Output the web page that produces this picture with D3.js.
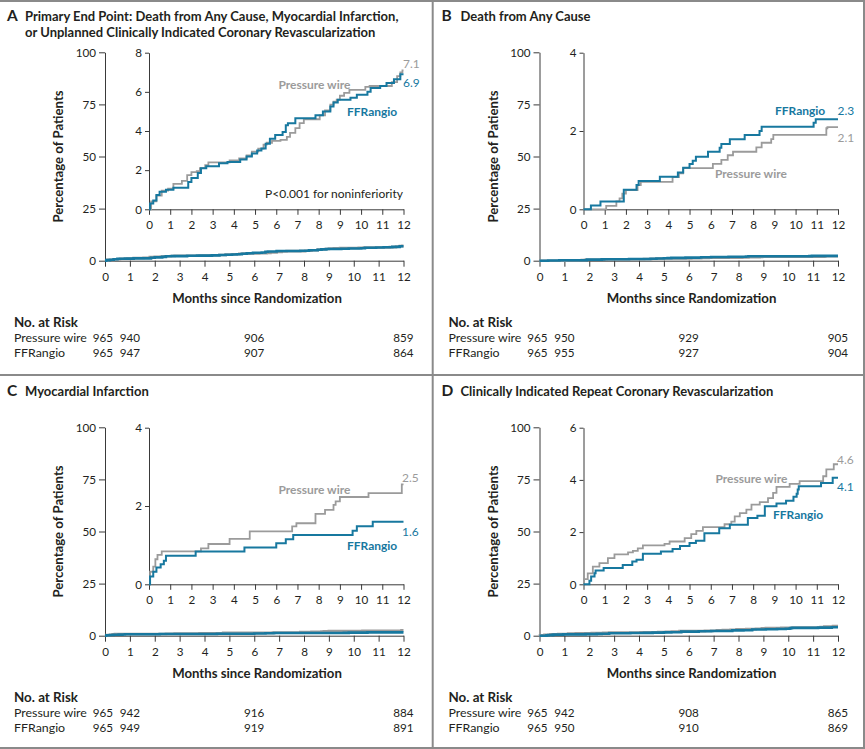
<!DOCTYPE html>
<html>
<head>
<meta charset="utf-8">
<script src="https://cdn.jsdelivr.net/npm/d3@7"></script>
<style>
  body { margin: 0; background: #fff; }
  svg { font-family: Lato, "Open Sans", sans-serif; }
</style>
</head>
<body>
<script>
const W = 865
const H = 749
const blue = '#17789f'
const gray = '#9b9b9b'
const ink = '#231f20'

const months = d3.range(0, 13)
const riskMonths = [0, 1, 6, 12]

// panel A: primary end point
const aWire = [[0,0],[0.1,0.4],[0.35,0.7],[0.6,0.95],[0.9,1.05],[1.15,1.3],[1.55,1.45],[1.8,1.75],[2.0,1.9],[2.25,1.95],[2.4,2.1],[2.65,2.25],[2.8,2.4],[3.8,2.5],[4.25,2.6],[4.6,2.75],[4.85,2.95],[5.15,3.1],[5.4,3.3],[5.55,3.4],[5.8,3.5],[6.2,3.55],[6.5,3.7],[6.65,3.9],[6.9,4.15],[7.1,4.4],[7.3,4.6],[8.05,4.8],[8.3,5.05],[8.55,5.35],[8.7,5.5],[8.85,5.6],[9.0,5.8],[9.2,5.95],[9.45,6.1],[10.2,6.25],[10.4,6.3],[11.45,6.5],[11.7,6.8],[11.85,7.0],[11.95,7.1],[12,7.1]]
const aAngio = [[0,0],[0.05,0.3],[0.2,0.45],[0.35,0.73],[0.5,0.9],[0.8,1.0],[1.15,1.1],[1.85,1.4],[2.0,1.6],[2.3,1.85],[2.45,2.1],[2.7,2.2],[3.3,2.35],[3.7,2.42],[4.3,2.55],[4.6,2.7],[4.85,2.85],[5.1,3.0],[5.3,3.1],[5.5,3.35],[5.7,3.6],[5.95,3.8],[6.3,3.95],[6.45,4.3],[6.55,4.4],[6.9,4.65],[7.85,4.8],[8.2,5.0],[8.55,5.25],[8.7,5.45],[8.9,5.6],[9.5,5.7],[9.8,5.85],[10.3,6.0],[10.45,6.2],[10.9,6.3],[11.2,6.45],[11.55,6.65],[11.85,6.9],[12,6.9]]
const aRiskWire = [965, 940, 906, 859]
const aRiskAngio = [965, 947, 907, 864]

// panel B: death from any cause
const bWire = [[0,0],[1.07,0.09],[1.55,0.2],[1.7,0.28],[1.83,0.4],[2.0,0.49],[2.55,0.62],[2.7,0.7],[4.2,0.82],[4.5,0.92],[4.7,1.05],[6.1,1.16],[6.5,1.26],[6.8,1.38],[7.05,1.47],[8.15,1.58],[8.4,1.7],[8.85,1.79],[8.95,1.9],[11.45,2.07],[11.5,2.1],[12,2.1]]
const bAngio = [[0,0],[0.35,0.1],[0.8,0.2],[1.9,0.5],[2.5,0.62],[2.6,0.72],[3.6,0.83],[4.45,0.94],[4.7,1.06],[5.0,1.16],[5.15,1.24],[5.3,1.34],[5.87,1.47],[6.42,1.57],[6.5,1.67],[6.9,1.79],[7.6,1.9],[8.3,2.0],[8.4,2.11],[10.85,2.21],[10.95,2.3],[12,2.3]]
const bRiskWire = [965, 950, 929, 905]
const bRiskAngio = [965, 955, 927, 904]

// panel C: myocardial infarction
const cWire = [[0,0],[0.05,0.32],[0.2,0.45],[0.3,0.64],[0.4,0.75],[0.6,0.84],[2.45,0.92],[2.8,1.03],[3.8,1.16],[4.75,1.35],[6.75,1.48],[6.95,1.56],[7.85,1.8],[8.3,1.9],[8.7,2.03],[8.8,2.12],[9.0,2.23],[10.35,2.33],[11.92,2.55],[12,2.55]]
const cAngio = [[0,0],[0.05,0.2],[0.2,0.32],[0.35,0.43],[0.55,0.51],[0.7,0.6],[0.8,0.73],[2.2,0.84],[4.5,0.94],[6.0,1.05],[6.45,1.15],[6.8,1.26],[9.6,1.37],[9.8,1.48],[10.55,1.6],[12,1.6]]
const cRiskWire = [965, 942, 916, 884]
const cRiskAngio = [965, 949, 919, 891]

// panel D: repeat revascularization
const dWire = [[0,0],[0.02,0.2],[0.2,0.42],[0.44,0.68],[0.75,0.81],[1.15,1.0],[1.46,1.15],[2.1,1.22],[2.33,1.28],[2.56,1.38],[2.8,1.49],[3.82,1.55],[4.06,1.64],[4.77,1.77],[5.08,1.92],[5.32,2.05],[5.63,2.19],[6.65,2.3],[6.97,2.4],[7.13,2.6],[7.37,2.73],[7.68,2.86],[7.92,3.05],[8.31,3.15],[8.7,3.3],[8.94,3.5],[9.1,3.73],[9.72,3.85],[10.19,3.95],[11.3,4.14],[11.45,4.4],[11.8,4.6],[12,4.6]]
const dAngio = [[0,0],[0.28,0.14],[0.36,0.3],[0.52,0.42],[0.57,0.53],[0.95,0.62],[1.85,0.74],[2.3,0.87],[2.5,0.94],[2.8,1.17],[3.65,1.26],[4.2,1.35],[4.55,1.47],[5.0,1.58],[5.3,1.67],[5.7,1.96],[6.4,2.15],[6.9,2.28],[7.75,2.54],[8.2,2.63],[8.55,2.99],[9.1,3.1],[9.55,3.2],[9.9,3.35],[10.05,3.47],[10.1,3.63],[10.15,3.76],[11.2,3.88],[11.75,4.08],[12,4.08]]
const dRiskWire = [965, 942, 908, 865]
const dRiskAngio = [965, 950, 910, 869]

const letters = ['A', 'B', 'C', 'D']
const titles = [
  ['Primary End Point: Death from Any Cause, Myocardial Infarction,', 'or Unplanned Clinically Indicated Coronary Revascularization'],
  ['Death from Any Cause'],
  ['Myocardial Infarction'],
  ['Clinically Indicated Repeat Coronary Revascularization']
]
const insetMax = [8, 4, 4, 6]
const insetTicks = [[0, 2, 4, 6, 8], [0, 2, 4], [0, 2, 4], [0, 2, 4, 6]]
const endWire = ['7.1', '2.1', '2.5', '4.6']
const endAngio = ['6.9', '2.3', '1.6', '4.1']
const mainTicks = [0, 25, 50, 75, 100]

const svg = d3.select('body').append('svg')
  .attr('width', W)
  .attr('height', H)

// pick font sizes so that Lato text spans roughly what the reference shows
const probe = svg.append('text').attr('font-size', 20)
function sizeFor(str, weight, width) {
  probe.attr('font-weight', weight).text(str)
  return 20 * width / probe.node().getComputedTextLength()
}
const fsTitle = sizeFor(titles[0][0], 700, 374)
const fsAxisTitle = sizeFor('Months since Randomization', 700, 170)
const fsRiskHead = sizeFor('No. at Risk', 700, 64)
const fsRowLabel = sizeFor('Pressure wire', 400, 73)
const fsNum = sizeFor('100', 400, 20.3)
const fsCurve = sizeFor('Pressure wire', 700, 72)
const fsP = sizeFor('P<0.001 for noninferiority', 400, 138)
probe.remove()

// frame lines
const frame = svg.append('g').attr('stroke', '#8a8a8a').attr('stroke-width', 2)
frame.append('line').attr('x1', 0).attr('x2', W).attr('y1', 1).attr('y2', 1)
frame.append('line').attr('x1', 864).attr('x2', 864).attr('y1', 0).attr('y2', H)
frame.append('line').attr('x1', 0).attr('x2', W).attr('y1', 748).attr('y2', 748)
frame.append('line').attr('x1', 432.7).attr('x2', 432.7).attr('y1', 0).attr('y2', H)
frame.append('line').attr('x1', 0).attr('x2', W).attr('y1', 375).attr('y2', 375)

function drawPanel(i, dx, dy, wire, angio, riskWire, riskAngio, labels) {
  const g = svg.append('g').attr('transform', `translate(${dx},${dy})`)

  const x = d3.scaleLinear().domain([0, 12]).range([105, 403.5])
  const y = d3.scaleLinear().domain([0, 100]).range([260.7, 52.3])
  const xi = d3.scaleLinear().domain([0, 12]).range([149, 403.5])
  const yi = d3.scaleLinear().domain([0, insetMax[i]]).range([209.3, 52.7])

  // title
  g.append('text').attr('x', 7).attr('y', 21)
    .attr('font-size', 15.5).attr('font-weight', 700).attr('fill', ink)
    .text(letters[i])
  titles[i].forEach((t, k) => {
    g.append('text').attr('x', i % 2 ? 26 : 25).attr('y', 20.8 + k * 16)
      .attr('font-size', fsTitle).attr('font-weight', 700).attr('fill', ink)
      .text(t)
  })

  // main axes
  const xAxis = g.append('g').attr('transform', `translate(0,${y(0)})`)
    .call(d3.axisBottom(x).tickValues(months).tickSize(6).tickSizeOuter(0))
  const yAxis = g.append('g').attr('transform', `translate(${x(0)},0)`)
    .call(d3.axisLeft(y).tickValues(mainTicks).tickSize(6).tickSizeOuter(0))
  // inset axes
  const xiAxis = g.append('g').attr('transform', `translate(0,${yi(0)})`)
    .call(d3.axisBottom(xi).tickValues(months).tickSize(5.5).tickSizeOuter(0))
  const yiAxis = g.append('g').attr('transform', `translate(${xi(0)},0)`)
    .call(d3.axisLeft(yi).tickValues(insetTicks[i]).tickFormat(d3.format('d')).tickSize(4).tickSizeOuter(0))

  ;[xAxis, yAxis, xiAxis, yiAxis].forEach(a => {
    a.selectAll('path, line').attr('stroke', '#3a3a3a').attr('stroke-width', 1)
    a.selectAll('text').attr('font-size', fsNum).attr('fill', ink)
      .attr('font-family', 'Lato, sans-serif')
  })
  xAxis.selectAll('text').attr('dy', '0.95em')
  xiAxis.selectAll('text').attr('dy', '0.95em')

  g.append('text').attr('x', 257).attr('y', 302.5)
    .attr('text-anchor', 'middle').attr('font-size', fsAxisTitle).attr('font-weight', 700).attr('fill', ink)
    .text('Months since Randomization')
  g.append('text')
    .attr('transform', `translate(63,${(y(0) + y(100)) / 2}) rotate(-90)`)
    .attr('text-anchor', 'middle').attr('font-size', fsAxisTitle).attr('font-weight', 700).attr('fill', ink)
    .text('Percentage of Patients')

  // curves
  const mainLine = d3.line().curve(d3.curveStepAfter).x(d => x(d[0])).y(d => y(d[1]))
  const insetLine = d3.line().curve(d3.curveStepAfter).x(d => xi(d[0])).y(d => yi(d[1]))

  g.append('path').datum(wire).attr('d', mainLine)
    .attr('fill', 'none').attr('stroke', gray).attr('stroke-width', 2.6)
  g.append('path').datum(angio).attr('d', mainLine)
    .attr('fill', 'none').attr('stroke', blue).attr('stroke-width', 2.6)
  g.append('path').datum(wire).attr('d', insetLine)
    .attr('fill', 'none').attr('stroke', gray).attr('stroke-width', 1.8)
  g.append('path').datum(angio).attr('d', insetLine)
    .attr('fill', 'none').attr('stroke', blue).attr('stroke-width', 2)

  // curve labels
  labels.forEach(l => {
    g.append('text').attr('x', l.x).attr('y', l.y)
      .attr('text-anchor', l.anchor || 'start')
      .attr('font-size', l.size || (l.bold ? fsCurve : fsNum + 0.3))
      .attr('font-weight', l.bold ? 700 : 400)
      .attr('fill', l.color)
      .text(l.text)
  })

  // number at risk
  g.append('text').attr('x', 14).attr('y', 326.8)
    .attr('font-size', fsRiskHead).attr('font-weight', 700).attr('fill', ink)
    .text('No. at Risk')
  const rows = [['Pressure wire', riskWire, 342.4], ['FFRangio', riskAngio, 356.9]]
  rows.forEach(r => {
    g.append('text').attr('x', 14).attr('y', r[2])
      .attr('font-size', fsRowLabel).attr('fill', ink).text(r[0])
    g.selectAll(null).data(r[1]).enter().append('text')
      .attr('x', (d, k) => x(riskMonths[k]) - (k === 0 ? 2 : 0))
      .attr('y', r[2])
      .attr('text-anchor', 'middle').attr('font-size', fsNum).attr('fill', ink)
      .text(d => d)
  })
}

drawPanel(0, 0, 0, aWire, aAngio, aRiskWire, aRiskAngio, [
  { x: 403, y: 67.8, text: endWire[0], color: gray },
  { x: 403, y: 86.8, text: endAngio[0], color: blue },
  { x: 278.5, y: 88.8, text: 'Pressure wire', color: gray, bold: true },
  { x: 347, y: 115.8, text: 'FFRangio', color: blue, bold: true },
  { x: 403, y: 197.8, text: 'P<0.001 for noninferiority', color: ink, anchor: 'end', size: fsP }
])
drawPanel(1, 434.5, 0, bWire, bAngio, bRiskWire, bRiskAngio, [
  { x: 403, y: 114.8, text: endAngio[1], color: blue },
  { x: 403, y: 142.3, text: endWire[1], color: gray },
  { x: 340.5, y: 114.8, text: 'FFRangio', color: blue, bold: true },
  { x: 280.5, y: 177.8, text: 'Pressure wire', color: gray, bold: true }
])
drawPanel(2, 0, 375, cWire, cAngio, cRiskWire, cRiskAngio, [
  { x: 402, y: 107.3, text: endWire[2], color: gray },
  { x: 402, y: 160.8, text: endAngio[2], color: blue },
  { x: 278.5, y: 118.8, text: 'Pressure wire', color: gray, bold: true },
  { x: 347, y: 175.3, text: 'FFRangio', color: blue, bold: true }
])
drawPanel(3, 434.5, 375, dWire, dAngio, dRiskWire, dRiskAngio, [
  { x: 402.5, y: 88.8, text: endWire[3], color: gray },
  { x: 402.5, y: 115.8, text: endAngio[3], color: blue },
  { x: 281, y: 108.3, text: 'Pressure wire', color: gray, bold: true },
  { x: 338.5, y: 144.3, text: 'FFRangio', color: blue, bold: true }
])
</script>
</body>
</html>
